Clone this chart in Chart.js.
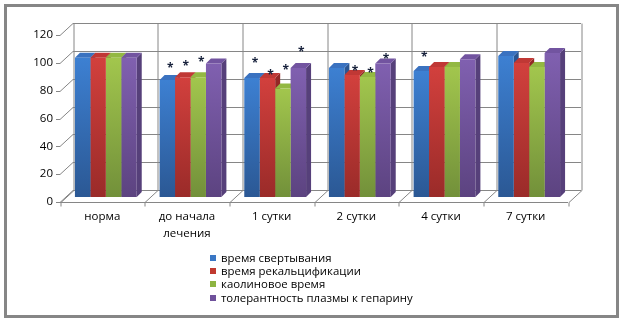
<!DOCTYPE html>
<html>
<head>
<meta charset="utf-8">
<script src="https://cdn.jsdelivr.net/npm/chart.js@4.4.0/dist/chart.umd.min.js"></script>
<style>
  body { margin: 0; background: #fff; }
  #wrap { position: relative; width: 625px; height: 324px; }
  #legend { position: absolute; left: 210px; top: 251px; font: 11.4px 'Open Sans', sans-serif; color: #000; }
  #legend div { height: 13.2px; line-height: 13.2px; white-space: nowrap; }
  #legend span { display: inline-block; width: 6px; height: 6px; margin-right: 5px; vertical-align: 1px; }
</style>
</head>
<body>
<div id="wrap">
  <canvas id="chart" width="625" height="324"></canvas>
  <div id="legend"></div>
</div>
<script>
// categories and series
const categories = ['норма', ['до начала', 'лечения'], '1 сутки', '2 сутки', '4 сутки', '7 сутки'];
const seriesNames = ['время свертывания', 'время рекальцификации', 'каолиновое время', 'толерантность плазмы к гепарину'];
const clottingTime = [100, 84, 85.5, 92.7, 90.5, 101.3];
const recalcTime = [100, 86, 85.5, 87.6, 93.4, 96.3];
const kaolinTime = [100, 86, 78, 86.2, 93.4, 93.4];
const heparinTolerance = [100, 96, 92.7, 96, 99, 103.4];
// height of each significance asterisk (null = none)
const starsClotting = [null, 94.8, 98.4, null, 102.7, null];
const starsRecalc = [null, 96.3, 89.8, 92.7, null, null];
const starsKaolin = [null, 99, 93.4, 91.2, null, null];
const starsHeparin = [null, null, 106.3, 101.3, null, null];
// y axis
const yMin = 0, yMax = 120, yStep = 20;

const seriesValues = [clottingTime, recalcTime, kaolinTime, heparinTolerance];
const seriesStars = [starsClotting, starsRecalc, starsKaolin, starsHeparin];

// top, bottom of front face, top face, side face
const palette = [
    { top: '#3d80d2', bottom: '#2b5894', cap: '#3a72c0', side: '#2a5592', key: '#3a77c4' },
    { top: '#d2403d', bottom: '#9a2b29', cap: '#c03835', side: '#942826', key: '#c0392f' },
    { top: '#a2c64d', bottom: '#72903a', cap: '#93b842', side: '#6d8a35', key: '#8db441' },
    { top: '#8060b0', bottom: '#5c4380', cap: '#7254a0', side: '#56407a', key: '#6f519b' }
];

const FRONT = { dx: -3.5, dy: 5 };
const BACK = { dx: 9.5, dy: -7 };
const BAR_DEPTH = 5;
const GRID = '#868686';

function frontGradient(c) {
    const pal = palette[c.datasetIndex];
    const chart = c.chart;
    if (!chart.chartArea || c.raw == null) return pal.top;
    const y = chart.scales.y.getPixelForValue(c.raw);
    const g = chart.ctx.createLinearGradient(0, y, 0, chart.chartArea.bottom);
    g.addColorStop(0, pal.top);
    g.addColorStop(1, pal.bottom);
    return g;
}

function line(ctx, x1, y1, x2, y2) {
    ctx.beginPath();
    ctx.moveTo(x1, y1);
    ctx.lineTo(x2, y2);
    ctx.stroke();
}

function poly(ctx, pts, fill) {
    ctx.beginPath();
    ctx.moveTo(pts[0][0], pts[0][1]);
    for (let k = 1; k < pts.length; k++) ctx.lineTo(pts[k][0], pts[k][1]);
    ctx.closePath();
    ctx.fillStyle = fill;
    ctx.fill();
}

const depth3d = {
    id: 'depth3d',
    beforeDraw(chart) {
        const ctx = chart.ctx;
        ctx.save();
        ctx.fillStyle = '#fff';
        ctx.fillRect(0, 0, chart.width, chart.height);
        ctx.restore();
    },
    beforeDatasetsDraw(chart) {
        const { ctx, chartArea: a, scales: { x, y } } = chart;
        ctx.save();
        ctx.strokeStyle = GRID;
        ctx.lineWidth = 1;
        const n = categories.length;
        // walls
        y.ticks.forEach(t => {
            const py = Math.round(y.getPixelForValue(t.value)) + 0.5;
            line(ctx, a.left + BACK.dx, py + BACK.dy, a.right + BACK.dx, py + BACK.dy);
            line(ctx, a.left + FRONT.dx, py + FRONT.dy, a.left + BACK.dx, py + BACK.dy);
            line(ctx, a.left + FRONT.dx - 4, py + FRONT.dy, a.left + FRONT.dx, py + FRONT.dy);
        });
        const y0 = Math.round(y.getPixelForValue(yMin)) + 0.5;
        const yTop = Math.round(y.getPixelForValue(yMax)) + 0.5;
        for (let i = 0; i <= n; i++) {
            const bx = Math.round(x.getPixelForValue(i - 0.5)) + 0.5;
            line(ctx, bx + BACK.dx, y0 + BACK.dy, bx + BACK.dx, yTop + BACK.dy);
            line(ctx, bx + FRONT.dx, y0 + FRONT.dy, bx + BACK.dx, y0 + BACK.dy);
            line(ctx, bx + FRONT.dx, y0 + FRONT.dy, bx + FRONT.dx, y0 + FRONT.dy + 4);
        }
        // floor front edge
        line(ctx, a.left + FRONT.dx, y0 + FRONT.dy, a.right + FRONT.dx, y0 + FRONT.dy);

        // bar tops and sides, left to right
        const d = BAR_DEPTH;
        for (let j = 0; j < n; j++) {
            for (let i = 0; i < seriesValues.length; i++) {
                const el = chart.getDatasetMeta(i).data[j];
                if (!el) continue;
                const l = el.x - el.width / 2, r = el.x + el.width / 2;
                const top = el.y, bot = el.base;
                poly(ctx, [[r, top], [r + d, top - d], [r + d, bot - d], [r, bot]], palette[i].side);
                poly(ctx, [[l, top], [l + d, top - d], [r + d, top - d], [r, top]], palette[i].cap);
            }
        }
        ctx.restore();
    },
    afterDatasetsDraw(chart) {
        const { ctx, scales: { y } } = chart;
        ctx.save();
        ctx.font = 'bold 12px "Open Sans"';
        ctx.textAlign = 'center';
        ctx.textBaseline = 'alphabetic';
        ctx.fillStyle = '#18223c';
        seriesStars.forEach((stars, i) => {
            const meta = chart.getDatasetMeta(i);
            stars.forEach((v, j) => {
                if (v == null) return;
                const el = meta.data[j];
                ctx.fillText('*', el.x + 3, y.getPixelForValue(v) + 7);
            });
        });
        ctx.restore();
    },
    afterDraw(chart) {
        const ctx = chart.ctx;
        ctx.save();
        ctx.strokeStyle = '#868686';
        ctx.lineWidth = 3;
        ctx.strokeRect(5.5, 5.5, 612, 311);
        ctx.restore();
    }
};

new Chart(document.getElementById('chart'), {
    type: 'bar',
    data: {
        labels: categories,
        datasets: seriesNames.map((name, i) => ({
            label: name,
            data: seriesValues[i],
            backgroundColor: frontGradient,
            borderWidth: 0,
            categoryPercentage: 0.73,
            barPercentage: 1.0
        }))
    },
    options: {
        responsive: false,
        animation: false,
        layout: { padding: { top: 30, right: 53.5, bottom: 0, left: 0 } },
        plugins: {
            legend: { display: false },
            tooltip: { enabled: false }
        },
        scales: {
            x: {
                grid: { display: false, drawTicks: false },
                border: { display: false },
                ticks: {
                    color: '#000',
                    font: { family: 'Open Sans', size: 11.5, lineHeight: 1.5 },
                    padding: 11,
                    labelOffset: -3.5,
                    maxRotation: 0,
                    autoSkip: false
                },
                afterFit(s) { s.height = 127; }
            },
            y: {
                min: yMin,
                max: yMax,
                grid: { display: false, drawTicks: false },
                border: { display: false },
                ticks: {
                    stepSize: yStep,
                    color: '#000',
                    font: { family: 'Open Sans', size: 11.5 },
                    padding: 10.5,
                    labelOffset: 5
                },
                afterFit(s) { s.width = 63.5; }
            }
        }
    },
    plugins: [depth3d]
});

// legend
const legend = document.getElementById('legend');
seriesNames.forEach((name, i) => {
    const row = document.createElement('div');
    const box = document.createElement('span');
    box.style.background = palette[i].key;
    row.appendChild(box);
    row.appendChild(document.createTextNode(name));
    legend.appendChild(row);
});
</script>
</body>
</html>
